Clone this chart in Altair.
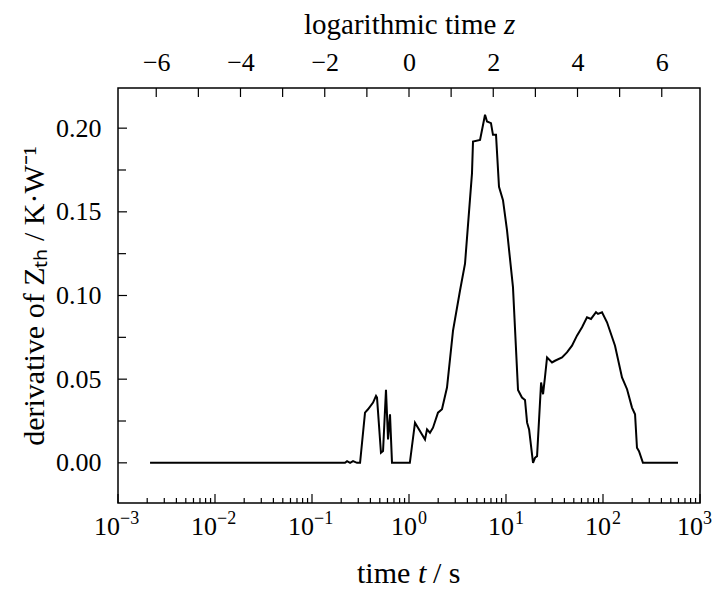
import math
import altair as alt
import pandas as pd

# ---- data ----
time_s = [0.00214, 0.195, 0.219, 0.230, 0.247, 0.265, 0.291, 0.313, 0.352, 0.378,
          0.426, 0.457, 0.468, 0.514, 0.540, 0.579, 0.608, 0.637, 0.668, 1.02,
          1.153, 1.462, 1.534, 1.645, 1.768, 1.990, 2.188, 2.464, 2.843, 3.357,
          3.78, 4.46, 4.57, 5.40, 6.08, 6.37, 7.00, 7.34, 7.89, 8.47,
          9.31, 10.24, 11.8, 13.3, 14.6, 15.7, 16.5, 17.3, 19.0, 19.9,
          20.9, 23.0, 24.1, 25.2, 26.5, 29.8, 32.0, 37.8, 42.5, 47.9,
          53.9, 60.8, 68.4, 75.2, 84.7, 88.8, 97.7, 110, 133, 157,
          177, 199, 214, 224, 235, 258, 593]
derivative = [0, 0, 0, 0.001, 0, 0.001, 0, 0, 0.030, 0.032,
              0.036, 0.040, 0.039, 0.006, 0.007, 0.0436, 0.014, 0.029, 0, 0,
              0.024, 0.014, 0.020, 0.018, 0.021, 0.030, 0.032, 0.045, 0.079, 0.103,
              0.119, 0.173, 0.192, 0.193, 0.208, 0.204, 0.203, 0.196, 0.196, 0.165,
              0.157, 0.139, 0.105, 0.0436, 0.039, 0.0376, 0.024, 0.020, 0.0, 0.003,
              0.004, 0.048, 0.041, 0.051, 0.063, 0.060, 0.061, 0.063, 0.066, 0.070,
              0.076, 0.081, 0.087, 0.086, 0.090, 0.089, 0.090, 0.084, 0.070, 0.051,
              0.044, 0.033, 0.029, 0.009, 0.007, 0.0, 0.0]

x_major = [0.001, 0.01, 0.1, 1, 10, 100, 1000]
x_exponents = ["−3", "−2", "−1", "0", "1", "2", "3"]
x_minor = [k * 10.0 ** e for e in range(-3, 3) for k in range(2, 10)]
y_major = [0.0, 0.05, 0.10, 0.15, 0.20]
y_minor = [0.025, 0.075, 0.125, 0.175]
z_ticks = [-6, -5, -4, -3, -2, -1, 0, 1, 2, 3, 4, 5, 6]
z_labels = [-6, -4, -2, 0, 2, 4, 6]

bottom_title = ["time", "t", "/ s"]
top_title = ["logarithmic time", "z"]
y_title = "derivative of Zₜₕ / K·W⁻¹"

W, H = 582, 415
FONT = "Liberation Serif"
LABEL = 26
SUP = 18
TITLE = 30

xs = alt.Scale(type="log", domain=[1e-3, 1e3], nice=False)
ys = alt.Scale(domain=[-0.024, 0.224], nice=False, zero=False)
zs = alt.Scale(domain=[math.log(1e-3), math.log(1e3)], nice=False, zero=False)

df = pd.DataFrame({"t": time_s, "d": derivative})

line = alt.Chart(df).mark_line(color="black", strokeWidth=2).encode(
    x=alt.X("t:Q", scale=xs, axis=None),
    y=alt.Y("d:Q", scale=ys, axis=alt.Axis(
        values=y_major, format=".2f", ticks=False, domain=False, grid=False,
        labelPadding=17, labelFontSize=LABEL, title=y_title,
        titleFontSize=TITLE, titlePadding=6)),
)

rule = dict(color="black", strokeWidth=1.2)
bx_major = alt.Chart(pd.DataFrame({"t": x_major})).mark_rule(**rule).encode(
    x=alt.X("t:Q", scale=xs, axis=None), y=alt.value(H), y2=alt.value(H - 9))
bx_minor = alt.Chart(pd.DataFrame({"t": x_minor})).mark_rule(**rule).encode(
    x=alt.X("t:Q", scale=xs, axis=None), y=alt.value(H), y2=alt.value(H - 5))

lab_df = pd.DataFrame({"t": x_major, "e": x_exponents})
labels = []
for cond, base_dx, sup_dx in [("datum.t < 1", 2, 2), ("datum.t >= 1 && datum.t < 1000", 8, 9),
                              ("datum.t >= 1000", 3, 3)]:
    labels.append(alt.Chart(lab_df).transform_filter(cond).mark_text(
        font=FONT, fontSize=LABEL, align="right", baseline="middle", dx=base_dx, color="black"
    ).encode(x=alt.X("t:Q", scale=xs, axis=None), y=alt.value(H + 24), text=alt.value("10")))
    labels.append(alt.Chart(lab_df).transform_filter(cond).mark_text(
        font=FONT, fontSize=SUP, align="left", baseline="middle", dx=sup_dx, color="black"
    ).encode(x=alt.X("t:Q", scale=xs, axis=None), y=alt.value(H + 16), text="e:N"))

ly_major = alt.Chart(pd.DataFrame({"d": y_major})).mark_rule(**rule).encode(
    y=alt.Y("d:Q", scale=ys, axis=None), x=alt.value(0), x2=alt.value(9))
ly_minor = alt.Chart(pd.DataFrame({"d": y_minor})).mark_rule(**rule).encode(
    y=alt.Y("d:Q", scale=ys, axis=None), x=alt.value(0), x2=alt.value(8))

top = alt.Chart(pd.DataFrame({"z": z_ticks})).mark_rule(**rule).encode(
    x=alt.X("z:Q", scale=zs, axis=alt.Axis(
        orient="top", values=z_labels, format="d", ticks=False, domain=False, grid=False,
        labelPadding=13, labelFontSize=LABEL, title="", labelFlush=False)),
    y=alt.value(0), y2=alt.value(9))

# axis titles with italic symbols
tt = pd.DataFrame({"s": top_title})
top_t1 = alt.Chart(tt.iloc[[0]]).mark_text(
    font=FONT, fontSize=29, align="left", baseline="alphabetic", color="black"
).encode(text="s:N", x=alt.value(186), y=alt.value(-54))
top_t2 = alt.Chart(tt.iloc[[1]]).mark_text(
    font=FONT, fontSize=29, fontStyle="italic", align="left", baseline="alphabetic", color="black"
).encode(text="s:N", x=alt.value(386), y=alt.value(-54))

bt = pd.DataFrame({"s": bottom_title})
bt_layers = []
for i, (xp, style) in enumerate([(239, "normal"), (300, "italic"), (315, "normal")]):
    bt_layers.append(alt.Chart(bt.iloc[[i]]).mark_text(
        font=FONT, fontSize=TITLE, fontStyle=style, align="left", baseline="alphabetic",
        color="black").encode(text="s:N", x=alt.value(xp), y=alt.value(H + 80)))

chart = alt.layer(line, bx_major, bx_minor, *labels, ly_major, ly_minor, top,
                  top_t1, top_t2, *bt_layers).resolve_scale(
    x="independent", y="independent"
).properties(
    width=W, height=H,
    autosize=alt.AutoSizeParams(type="none"),
    padding={"left": 110, "top": 80, "right": 12, "bottom": 85},
).configure_view(
    stroke="black", strokeWidth=1.5
).configure_axis(
    labelFont=FONT, titleFont=FONT, labelColor="black", titleColor="black",
    titleFontWeight="normal"
)

chart.save("out.html", embed_options={"renderer": "svg", "actions": False})
